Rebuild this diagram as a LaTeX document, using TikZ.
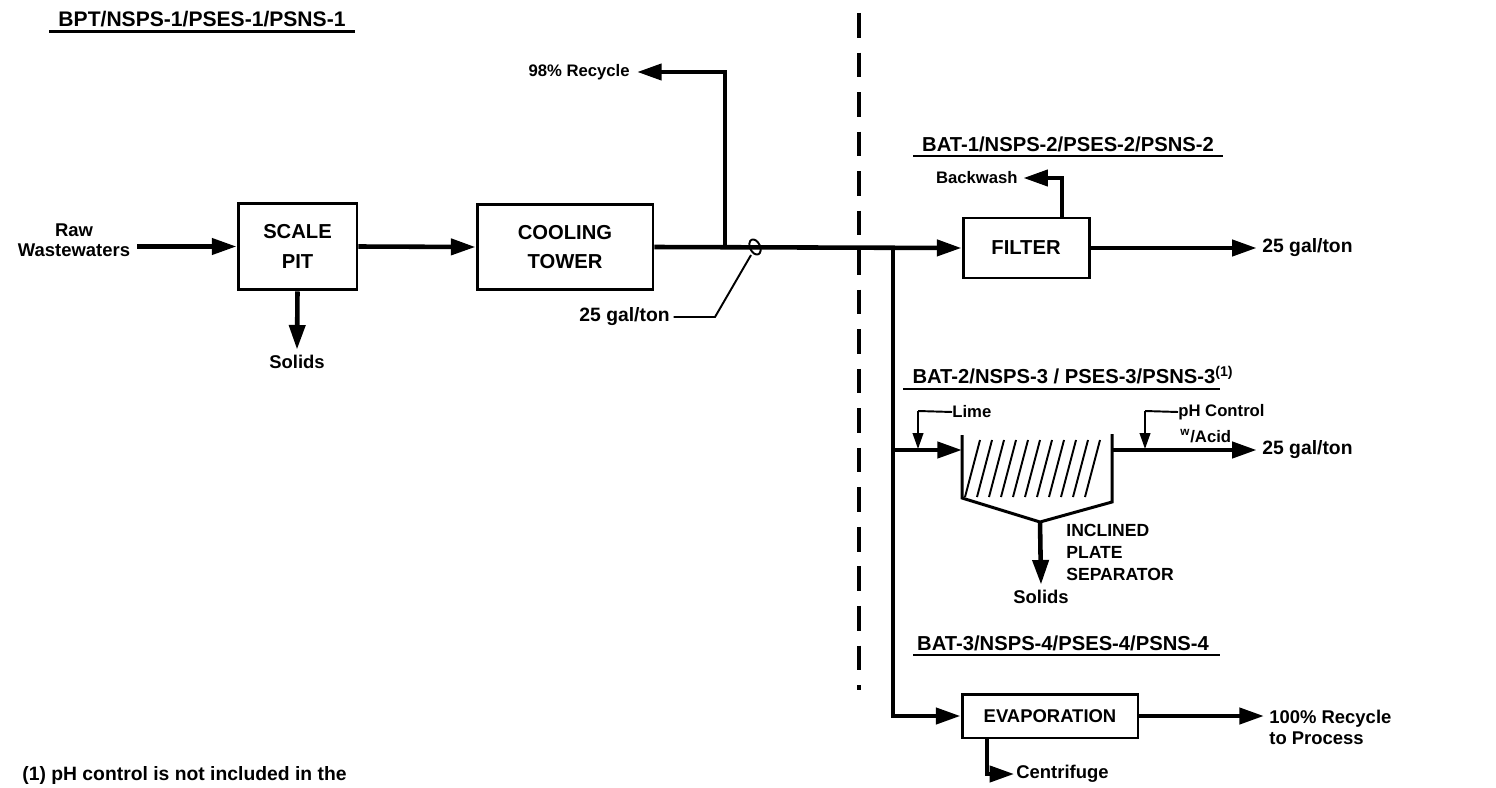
\documentclass[tikz,border=0pt]{standalone}
\usepackage{fontspec}
\setmainfont{Liberation Sans}
\usetikzlibrary{arrows.meta}

\tikzset{
  flow/.style={line width=2.6pt,-{Triangle[length=14pt,width=9pt]}},
  feed/.style={line width=1.1pt,-{Triangle[length=9pt,width=6pt]}},
  lead/.style={line width=1.1pt},
  rule/.style={line width=1.3pt},
  unit/.style={draw,line width=1.7pt,align=center,inner sep=0pt,font=\fontsize{11.5}{17}\bfseries\selectfont},
  lbl/.style={inner sep=0pt,align=center,font=\fontsize{10.5}{11.5}\bfseries\selectfont},
  rate/.style={inner sep=0pt,align=left,font=\fontsize{11}{12}\bfseries\selectfont},
  small/.style={inner sep=0pt,align=left,font=\fontsize{9.5}{13}\bfseries\selectfont},
  title/.style={inner sep=0pt,font=\fontsize{11.5}{14}\bfseries\selectfont},
}

\begin{document}
\begin{tikzpicture}[x=0.02cm,y=-0.02cm]
\useasboundingbox (0,0) rectangle (1496,787);

% BPT / NSPS-1 part
\node[title,font=\fontsize{12}{14}\bfseries\selectfont] (bpt) at (202,19) {BPT/NSPS-1/PSES-1/PSNS-1};
\draw[rule] ([xshift=-5pt,yshift=-2.5pt]bpt.south west) -- ([xshift=5pt,yshift=-2.5pt]bpt.south east);

\node[lbl] (raw) at (74,240) {Raw\\Wastewaters};
\coordinate (rawout) at (137,246.5);

\node[unit,minimum width=2.38cm,minimum height=1.74cm] (scale) at (297.5,246.5) {SCALE\\PIT};
\node[unit,minimum width=3.52cm,minimum height=1.72cm] (cool) at (565,247) {COOLING\\TOWER};
\node[lbl] (solids1) at (297,362) {Solids};

\draw[flow] (rawout) -- (scale.west);
\draw[flow] (scale.south) -- ([yshift=3pt]solids1.north);
\draw[flow] (scale.east) -- (cool.west);

% recycle and flow tag
\node[lbl,anchor=east,font=\fontsize{9.5}{11}\bfseries\selectfont] (recycle) at (630,72) {98\% Recycle};
\coordinate (rj) at (725,247);
\draw[flow] (rj) |- ([xshift=4pt]recycle.east);

\node[rate,anchor=east] (gal0) at (670,317) {25 gal/ton};
\draw[lead,rotate around={25:(755,247)}] (755,247) ellipse [x radius=5,y radius=8];
\coordinate (tag) at (751,255);
\coordinate (bend0) at (715,317);
\draw[lead] (tag) -- (bend0) -- ([xshift=2pt]gal0.east);

% dividing line
\coordinate (divtop) at (859,13);
\coordinate (divbot) at (859,690);
\draw[line width=2.6pt,dash pattern=on 14pt off 8.5pt] (divtop) -- (divbot);

% BAT-1
\node[title] (bat1) at (1068,144) {BAT-1/NSPS-2/PSES-2/PSNS-2};
\draw[rule] ([xshift=-5pt,yshift=-2.5pt]bat1.south west) -- ([xshift=5pt,yshift=-2.5pt]bat1.south east);

\node[unit,minimum width=2.52cm,minimum height=1.2cm] (filter) at (1026,248) {FILTER};
\node[lbl,anchor=east,font=\fontsize{9.5}{11}\bfseries\selectfont] (backwash) at (1018,178) {Backwash};
\node[rate,anchor=west] (out1) at (1262,248) {25 gal/ton};
\coordinate (bw) at (1062,218);

\draw[flow] (cool.east) -- (filter.west);
\draw[flow] (bw) |- ([xshift=3pt]backwash.east);
\draw[flow] (filter.east) -- ([xshift=-3pt]out1.west);

% BAT-2
\node[title] (bat2) at (1073,375) {BAT-2/NSPS-3 / PSES-3/PSNS-3\textsuperscript{(1)}};
\draw[rule] ([xshift=-5pt,yshift=-2.5pt]bat2.south west) -- ([xshift=-8pt,yshift=-2.5pt]bat2.south east);

\coordinate (sepin) at (962,450);
\coordinate (sepout) at (1112,450);
\coordinate (apex) at (1040,522);
\draw[line width=1.7pt] (962,435) -- (962,498) -- (apex) -- (1112,502) -- (1112,434);
\foreach \i in {0,...,10}
  \draw[lead] (980+12*\i,440) -- (965+12*\i,497);

\node[small,anchor=west] (lime) at (952,412) {Lime};
\coordinate (limec) at (918,411);
\coordinate (limein) at (918,449);
\draw[lead] (lime.west) -- (limec);
\draw[feed] (limec) -- (limein);

\node[small,anchor=west] (ph) at (1178,412) {pH Control};
\node[small,anchor=west] (acid) at (1180,436) {\textsuperscript{w}/Acid};
\coordinate (phc) at (1145,411);
\coordinate (phin) at (1145,449);
\draw[lead] (ph.west) -- (phc);
\draw[feed] (phc) -- (phin);

\node[rate,anchor=west] (out2) at (1262,450) {25 gal/ton};
\node[lbl] (solids2) at (1041,597) {Solids};
\node[inner sep=0pt,align=left,anchor=west,font=\fontsize{10}{12.5}\bfseries\selectfont] (sepname) at (1066,552) {INCLINED\\PLATE\\SEPARATOR};

\draw[flow] (sepout) -- ([xshift=-3pt]out2.west);
\draw[flow] (apex) -- ([yshift=3pt]solids2.north);

% BAT-3
\node[title] (bat3) at (1063,643) {BAT-3/NSPS-4/PSES-4/PSNS-4};
\draw[rule] ([xshift=-2pt,yshift=-2.5pt]bat3.south west) -- ([xshift=6pt,yshift=-2.5pt]bat3.south east);

\node[unit,minimum width=3.52cm,minimum height=0.88cm,font=\fontsize{10.5}{12}\bfseries\selectfont] (evap) at (1050,716) {EVAPORATION};
\node[inner sep=0pt,align=left,anchor=west,font=\fontsize{10.5}{12}\bfseries\selectfont] (out3) at (1269,727) {100\% Recycle\\to Process};
\node[rate,anchor=west,font=\fontsize{10.5}{12}\bfseries\selectfont] (centrifuge) at (1016,774) {Centrifuge};
\coordinate (recin) at (1264,716);
\coordinate (cfout) at (987,737);

\draw[flow] (evap.east) -- (recin);
\draw[flow] (cfout) |- ([xshift=-1pt]centrifuge.west);

% branches off the main line
\coordinate (bj) at (893,248);
\coordinate (bj2) at (893,450);
\draw[flow] (bj) |- (evap.west);
\draw[flow] (bj2) -- (sepin);

% footnote
\node[inner sep=0pt,anchor=west,font=\fontsize{11}{13}\bfseries\selectfont] (note) at (22,775) {(1) pH control is not included in the};
\end{tikzpicture}
\end{document}
